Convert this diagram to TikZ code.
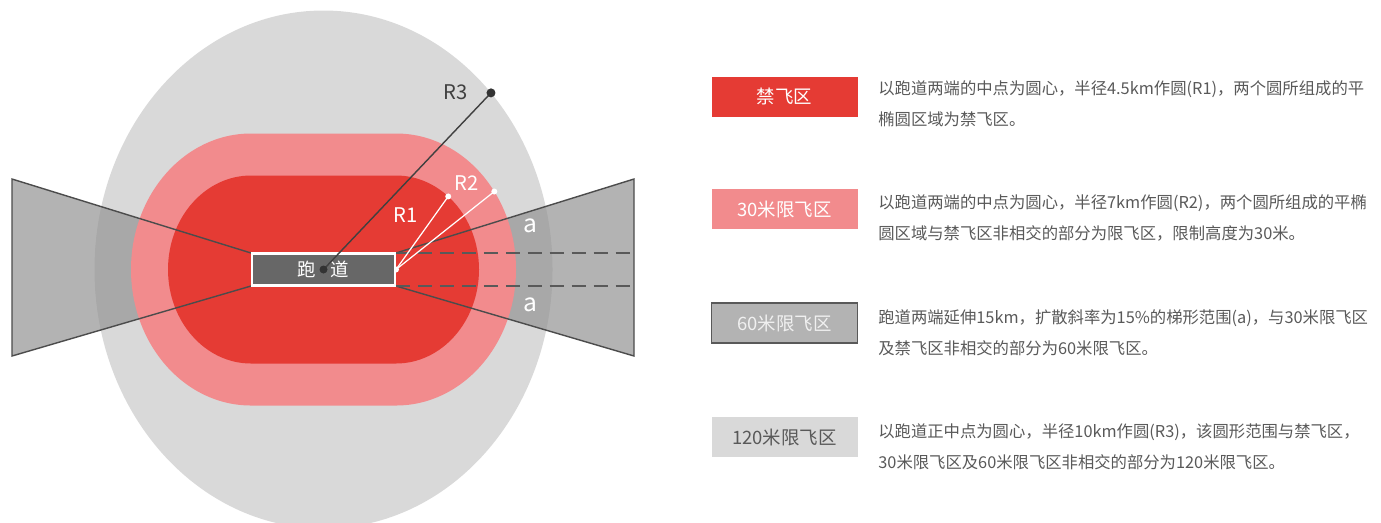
\documentclass[tikz,border=0pt]{standalone}
\usepackage{fontspec}
\setmainfont{Noto Sans CJK SC}
\usetikzlibrary{positioning}

\definecolor{noflyred}{HTML}{E53B34}
\definecolor{limpink}{HTML}{F28B8D}
\definecolor{limgrey}{HTML}{D9D9D9}
\definecolor{wedgegrey}{HTML}{949494}
\definecolor{boxgrey}{HTML}{B3B3B3}
\definecolor{runwaygrey}{HTML}{676767}
\definecolor{txtgrey}{HTML}{595959}

\tikzstyle{wedgefill}=[fill=wedgegrey, fill opacity=0.71]
\tikzstyle{wedgeline}=[draw=black!70, line width=0.8pt, line join=miter]
\tikzstyle{gap}=[draw=black!65, line width=1.2pt, dash pattern=on 8pt off 4.5pt]
\tikzstyle{legend}=[minimum width=2.92cm, minimum height=0.8cm, inner sep=0pt, font=\fontsize{10.5}{12}\selectfont]
\tikzstyle{desc}=[anchor=north west, inner sep=0pt, align=left, text=txtgrey, font=\fontsize{9.3}{17.6}\selectfont]
\tikzstyle{rlabel}=[inner sep=0pt, font=\fontsize{11.5}{13}\selectfont]
\newcommand{\stadium}[3]{
	\fill[#1]
	(\xL,	{\yc - (#3)})	-- (\xR,	{\yc - (#3)})
	arc[start angle=-90, end angle=90, x radius=#2, y radius=#3] --
	(\xL,	{\yc + (#3)})
	arc[start angle=90, end angle=270, x radius=#2, y radius=#3] -- cycle;
}

\begin{document}
\begin{tikzpicture}[x=0.02cm, y=-0.02cm]
\pgfmathsetmacro{\xL}{251}
\pgfmathsetmacro{\xR}{396}
\pgfmathsetmacro{\xc}{(\xL + \xR) / 2}
\pgfmathsetmacro{\yc}{269.5}
\pgfmathsetmacro{\yT}{253}
\pgfmathsetmacro{\yB}{286}
\pgfmathsetmacro{\xOutL}{12}
\pgfmathsetmacro{\xOutR}{634}
\pgfmathsetmacro{\yOutT}{179}
\pgfmathsetmacro{\yOutB}{356}
\useasboundingbox (0,0) rectangle (1381,522);

\coordinate (c) at (\xc,\yc);
\coordinate (endR) at (\xR,\yc);
\coordinate (rOne) at ({\xR + 83*cos(51)},{\yc - 94*sin(51)});
\coordinate (rTwo) at ({\xR + 120*cos(35)},{\yc - 136*sin(35)});
\coordinate (rThree) at ({\xc + 229*cos(43)},{\yc - 259*sin(43)});

% zones
\fill[limgrey] (c) ellipse[x radius=229, y radius=259];
\fill[wedgefill] (\xL,\yT) -- (\xOutL,\yOutT) -- (\xOutL,\yOutB) -- (\xL,\yB) -- cycle;
\fill[wedgefill] (\xR,\yT) -- (\xOutR,\yOutT) -- (\xOutR,\yOutB) -- (\xR,\yB) -- cycle;
\stadium{limpink}{120}{136}
\stadium{noflyred}{83}{94}
\draw[wedgeline] (\xL,\yT) -- (\xOutL,\yOutT) -- (\xOutL,\yOutB) -- (\xL,\yB);
\draw[wedgeline] (\xR,\yT) -- (\xOutR,\yOutT) -- (\xOutR,\yOutB) -- (\xR,\yB);
\draw[gap] (\xR,\yT) -- (\xOutR,\yT);
\draw[gap] (\xR,\yB) -- (\xOutR,\yB);

% radii
\draw[white, line width=0.7pt] (endR) -- (rOne);
\draw[white, line width=0.7pt] (endR) -- (rTwo);
\foreach \p in {endR,rOne,rTwo}
	\fill[white] (\p) circle (3);
\node[rlabel, text=white] (lblOne) at (406,215) {R1};
\node[rlabel, text=white] (lblTwo) at (467,183) {R2};
\node[rlabel, text=black!75] (lblThree) at (456,92) {R3};
\node[rlabel, text=white, font=\fontsize{14}{16}\selectfont] (aTop) at (530,226) {a};
\node[rlabel, text=white, font=\fontsize{14}{16}\selectfont] (aBot) at (530,305) {a};

% runway
\node[fill=runwaygrey, draw=white, line width=1.2pt, minimum width=2.86cm, minimum height=0.64cm,
	inner sep=0pt, text=white, font=\fontsize{10.5}{12}\selectfont] (rwy) at (c) {跑\hspace{0.8em}道};
\draw[black!75, line width=0.8pt] (c) -- (rThree);
\fill[black!80] (c) circle (4);
\fill[black!80] (rThree) circle (4.5);

% legend
\node[legend, fill=noflyred, text=white] (nofly) at (784.5,96.5) {禁飞区};
\node[legend, fill=limpink, text=white] (limA) at (784.5,209) {30米限飞区};
\node[legend, fill=boxgrey, draw=black!65, line width=0.8pt, text=white!94!black] (limB) at (784.5,323) {60米限飞区};
\node[legend, fill=limgrey, text=txtgrey] (limC) at (784.5,437) {120米限飞区};

\node[desc] (noflyTxt) at (878,80) {以跑道两端的中点为圆心，半径4.5km作圆(R1)，两个圆所组成的平\\椭圆区域为禁飞区。};
\node[desc] (limATxt) at (878,194) {以跑道两端的中点为圆心，半径7km作圆(R2)，两个圆所组成的平椭\\圆区域与禁飞区非相交的部分为限飞区，限制高度为30米。};
\node[desc] (limBTxt) at (878,309) {跑道两端延伸15km，扩散斜率为15\%的梯形范围(a)，与30米限飞区\\及禁飞区非相交的部分为60米限飞区。};
\node[desc] (limCTxt) at (878,423) {以跑道正中点为圆心，半径10km作圆(R3)，该圆形范围与禁飞区，\\30米限飞区及60米限飞区非相交的部分为120米限飞区。};
\end{tikzpicture}
\end{document}
